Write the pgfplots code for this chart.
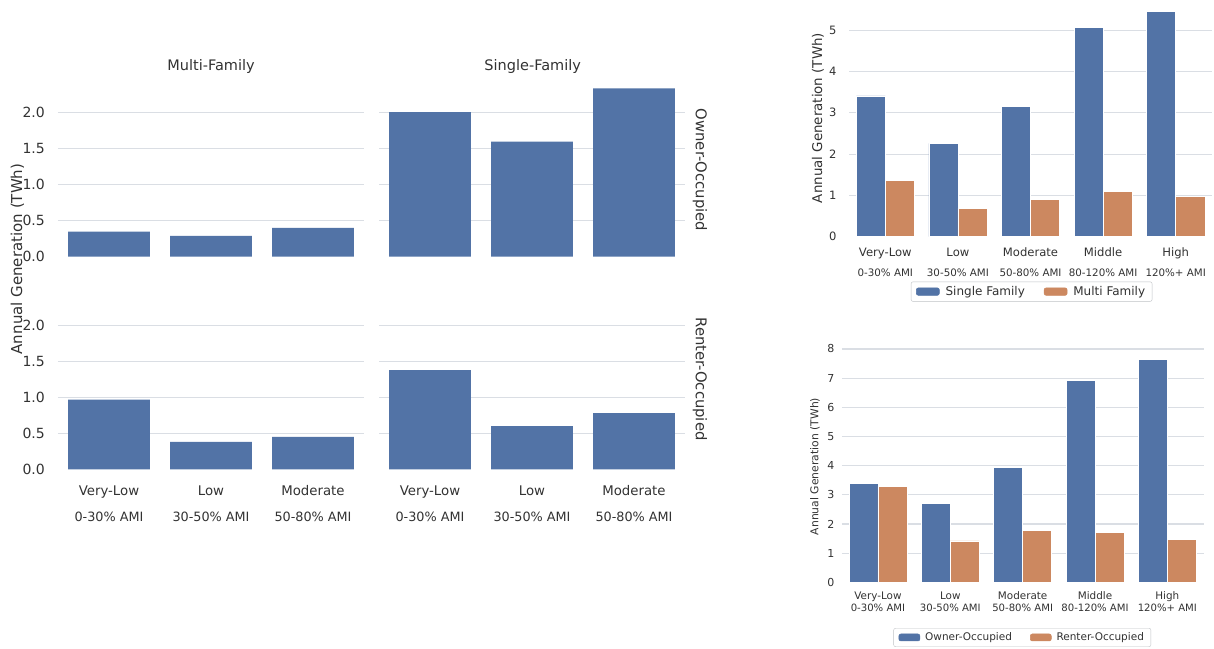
\documentclass[border=0pt]{standalone}
\usepackage{pgfplots}
\pgfplotsset{compat=1.18}
\usepackage{fontspec}
\setmainfont{DejaVu Sans}
\definecolor{sbblue}{RGB}{82,115,166}
\definecolor{sborange}{RGB}{204,136,96}
\definecolor{gridc}{RGB}{218,222,228}
\definecolor{txt}{RGB}{50,50,50}
\pgfplotsset{
  base/.style={
    scale only axis, anchor=south west,
    axis line style={draw=none}, tick style={draw=none},
    ymajorgrids, grid style={gridc, line width=1.1pt},
    /pgf/number format/assume math mode=true,
    tick label style={text=txt},
    extra y ticks={0}, extra y tick style={grid=none},
  },
  facet/.style={
    base, width=306pt, height=177pt,
    xmin=-0.5, xmax=2.5, ymin=0, ymax=2.46,
    ytick={0.5,1,1.5,2},
    /pgf/number format/.cd, fixed, fixed zerofill, precision=1, /pgfplots/.cd,
    yticklabel style={anchor=east, inner sep=0pt, xshift=-13pt, font=\fontsize{14}{16}\selectfont},
  },
  facetbottom/.style={
    xtick={0,1,2}, xticklabels={Very-Low,Low,Moderate},
    xticklabel style={anchor=base, inner sep=0pt, yshift=-25.7pt, font=\fontsize{13.3}{15}\selectfont},
    extra x ticks={0,1,2},
    extra x tick labels={0-30\% AMI,30-50\% AMI,50-80\% AMI},
    extra x tick style={xticklabel style={yshift=-26pt, font=\fontsize{12.8}{15}\selectfont}},
  },
  facettop/.style={xtick=\empty},
  noy/.style={yticklabels={}, extra y tick labels={}},
}
\begin{document}
\begin{tikzpicture}
% ---- Facet grid ----
\begin{axis}[facet, facettop, at={(58pt,391.3pt)}]
\addplot[ybar, bar width=0.8, fill=sbblue, draw=none] coordinates {(0,0.35) (1,0.29) (2,0.40)};
\end{axis}
\begin{axis}[facet, facettop, noy, at={(379pt,391.3pt)}]
\addplot[ybar, bar width=0.8, fill=sbblue, draw=none] coordinates {(0,2.01) (1,1.60) (2,2.34)};
\end{axis}
\begin{axis}[facet, facetbottom, at={(58pt,178.7pt)}]
\addplot[ybar, bar width=0.8, fill=sbblue, draw=none] coordinates {(0,0.97) (1,0.38) (2,0.45)};
\end{axis}
\begin{axis}[facet, facetbottom, noy, at={(379pt,178.7pt)}]
\addplot[ybar, bar width=0.8, fill=sbblue, draw=none] coordinates {(0,1.38) (1,0.60) (2,0.78)};
\end{axis}
\node[anchor=base, text=txt, font=\fontsize{14.5}{16}\selectfont] at (211pt,577pt) {Multi-Family};
\node[anchor=base, text=txt, font=\fontsize{14.5}{16}\selectfont] at (532.7pt,577pt) {Single-Family};
\node[rotate=-90, text=txt, font=\fontsize{14.8}{16}\selectfont] at (700pt,478pt) {Owner-Occupied};
\node[rotate=-90, text=txt, font=\fontsize{14.8}{16}\selectfont] at (700pt,269pt) {Renter-Occupied};
\node[rotate=90, text=txt, font=\fontsize{15}{17}\selectfont] at (17.5pt,389pt) {Annual Generation (TWh)};
% ---- Right top ----
\begin{axis}[base, at={(849pt,411.3pt)}, width=363pt, height=236.7pt,
  xmin=-0.5, xmax=4.5, ymin=0, ymax=5.73, ytick={1,2,3,4,5},
  yticklabel style={anchor=east, inner sep=0pt, xshift=-12.4pt, font=\fontsize{11.5}{13}\selectfont},
  xtick={0,1,2,3,4}, xticklabels={Very-Low,Low,Moderate,Middle,High},
  xticklabel style={anchor=base, inner sep=0pt, yshift=-20.3pt, font=\fontsize{11.6}{13}\selectfont},
  extra x ticks={0,1,2,3,4},
  extra x tick labels={0-30\% AMI,30-50\% AMI,50-80\% AMI,80-120\% AMI,120\%+ AMI},
  extra x tick style={xticklabel style={yshift=-20pt, font=\fontsize{10.3}{12}\selectfont}},
  legend columns=2,
  legend style={at={(0.503,-0.232)}, anchor=center, draw=gridc!70!gray, fill=white,
    rounded corners=2pt, font=\fontsize{12}{14}\selectfont, text=txt,
    inner xsep=5pt, inner ysep=2.5pt,
    /tikz/every odd column/.append style={column sep=4pt},
    /tikz/every even column/.append style={column sep=17pt}},
]
\addplot[ybar, bar width=0.4, bar shift=-0.2, fill=sbblue, draw=white, line width=0.5pt,
  legend image code/.code={\fill[sbblue] (0pt,-3.7pt) rectangle (23pt,3.7pt);}]
  coordinates {(0,3.41) (1,2.26) (2,3.16) (3,5.06) (4,5.46)};
\addlegendentry{Single Family}
\addplot[ybar, bar width=0.4, bar shift=0.2, fill=sborange, draw=white, line width=0.5pt,
  legend image code/.code={\fill[sborange] (0pt,-3.7pt) rectangle (23pt,3.7pt);}]
  coordinates {(0,1.36) (1,0.69) (2,0.91) (3,1.10) (4,0.98)};
\addlegendentry{Multi Family}
\end{axis}
\node[rotate=90, text=txt, font=\fontsize{13.4}{15}\selectfont] at (818pt,530pt) {Annual Generation (TWh)};
% ---- Right bottom ----
\begin{axis}[base, at={(841.8pt,65.7pt)}, width=361.7pt, height=234.8pt,
  xmin=-0.5, xmax=4.5, ymin=0, ymax=8.05, ytick={1,2,3,4,5,6,7,8},
  yticklabel style={anchor=east, inner sep=0pt, xshift=-7.3pt, font=\fontsize{11}{13}\selectfont},
  xtick={0,1,2,3,4}, xticklabels={Very-Low,Low,Moderate,Middle,High},
  xticklabel style={anchor=base, inner sep=0pt, yshift=-16.7pt, font=\fontsize{10.4}{12}\selectfont},
  extra x ticks={0,1,2,3,4},
  extra x tick labels={0-30\% AMI,30-50\% AMI,50-80\% AMI,80-120\% AMI,120\%+ AMI},
  extra x tick style={xticklabel style={yshift=-12.3pt, font=\fontsize{10.1}{12}\selectfont}},
  legend columns=2,
  legend style={at={(0.499,-0.235)}, anchor=center, draw=gridc!70!gray, fill=white,
    rounded corners=2pt, font=\fontsize{10.5}{12}\selectfont, text=txt,
    inner xsep=5pt, inner ysep=2.5pt,
    /tikz/every odd column/.append style={column sep=3pt},
    /tikz/every even column/.append style={column sep=16pt}},
]
\addplot[ybar, bar width=0.4, bar shift=-0.2, fill=sbblue, draw=white, line width=0.5pt,
  legend image code/.code={\fill[sbblue] (0pt,-3.5pt) rectangle (21pt,3.5pt);}]
  coordinates {(0,3.39) (1,2.71) (2,3.94) (3,6.92) (4,7.65)};
\addlegendentry{Owner-Occupied}
\addplot[ybar, bar width=0.4, bar shift=0.2, fill=sborange, draw=white, line width=0.5pt,
  legend image code/.code={\fill[sborange] (0pt,-3.5pt) rectangle (21pt,3.5pt);}]
  coordinates {(0,3.30) (1,1.42) (2,1.79) (3,1.72) (4,1.48)};
\addlegendentry{Renter-Occupied}
\end{axis}
\node[rotate=90, text=txt, font=\fontsize{10.8}{12}\selectfont] at (815pt,181.5pt) {Annual Generation (TWh)};
\pgfresetboundingbox
\useasboundingbox (0,0) rectangle (1214pt,648pt);
\end{tikzpicture}
\end{document}
